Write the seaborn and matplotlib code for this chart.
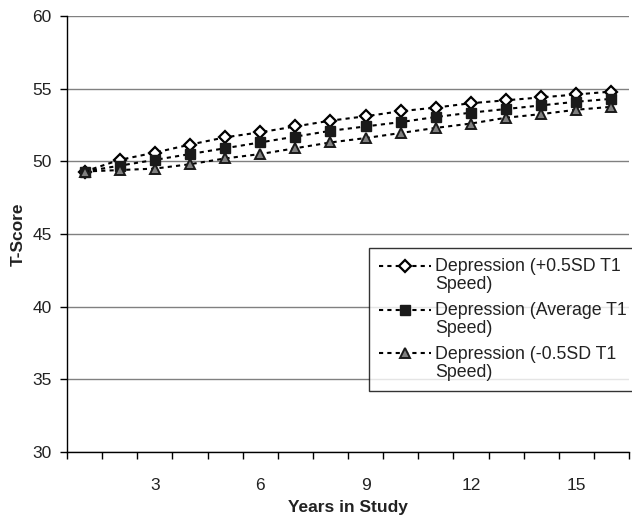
import matplotlib
matplotlib.use("Agg")
import matplotlib.pyplot as plt
import seaborn as sns
import pandas as pd
import numpy as np
from matplotlib.legend_handler import HandlerLine2D

years = list(range(1, 17))
plus_half_sd = [49.3, 50.1, 50.6, 51.15, 51.65, 52.0, 52.4, 52.8, 53.1, 53.45, 53.7, 54.0, 54.2, 54.4, 54.6, 54.8]
average = [49.3, 49.7, 50.1, 50.5, 50.9, 51.3, 51.7, 52.1, 52.4, 52.7, 53.05, 53.35, 53.6, 53.85, 54.1, 54.3]
minus_half_sd = [49.3, 49.4, 49.5, 49.8, 50.2, 50.5, 50.9, 51.3, 51.6, 51.95, 52.3, 52.6, 53.0, 53.25, 53.55, 53.75]
labels = ["Depression (+0.5SD T1\nSpeed)", "Depression (Average T1\nSpeed)", "Depression (-0.5SD T1\nSpeed)"]
x_tick_values = [3, 6, 9, 12, 15]
y_tick_values = [30, 35, 40, 45, 50, 55, 60]

sns.set_style("white")
plt.rcParams['font.family'] = ['Liberation Sans', 'DejaVu Sans']

fig = plt.figure(figsize=(6.32, 5.2), dpi=100)
ax = fig.add_axes([67/632, 1-452/520, (629-67)/632, (452-16)/520])

styles = [
    dict(marker='D', markersize=6.5, markerfacecolor='white', markeredgecolor='black', markeredgewidth=1.6),
    dict(marker='s', markersize=7, markerfacecolor='#1a1a1a', markeredgecolor='#1a1a1a', markeredgewidth=1.0),
    dict(marker='^', markersize=7.5, markerfacecolor='#808080', markeredgecolor='#1a1a1a', markeredgewidth=1.4),
]
series = [plus_half_sd, average, minus_half_sd]
for vals, lab, st in zip(series, labels, styles):
    df = pd.DataFrame({"Year": years, "T": vals})
    sns.lineplot(data=df, x="Year", y="T", ax=ax, color='black', linewidth=1.5,
                 linestyle=(0, (2, 2)), label=lab, **st)

ax.set_xlim(0.5, 16.5)
ax.set_ylim(30, 60)
ax.set_xticks(x_tick_values)
ax.set_xticklabels([str(v) for v in x_tick_values])
ax.set_xticks(np.arange(0.5, 17, 1), minor=True)
ax.tick_params(axis='x', which='major', length=0, pad=19, labelsize=12.5, labelcolor='#222222')
ax.tick_params(axis='x', which='minor', length=5, width=1, direction='out', color='black', bottom=True)
ax.set_yticks(y_tick_values)
ax.tick_params(axis='y', length=5, width=1, direction='out', pad=6, labelsize=12.5,
               color='black', labelcolor='#222222', left=True)

ax.yaxis.grid(True, color='#808080', linewidth=1)
ax.set_axisbelow(True)
for s in ['top', 'right']:
    ax.spines[s].set_visible(False)
for s in ['left', 'bottom']:
    ax.spines[s].set_color('black')
    ax.spines[s].set_linewidth(1)

ax.set_xlabel("Years in Study", fontsize=12.5, fontweight='bold', labelpad=5, color='#222222')
ax.set_ylabel("T-Score", fontsize=12.5, fontweight='bold', labelpad=5, color='#222222')


class UpHandler(HandlerLine2D):
    def create_artists(self, legend, orig_handle, xdescent, ydescent, width, height, fontsize, trans):
        shift = fontsize * 1.15
        return super().create_artists(legend, orig_handle, xdescent, ydescent - shift, width, height, fontsize, trans)


handles, labs = ax.get_legend_handles_labels()
if ax.get_legend():
    ax.get_legend().remove()
leg = fig.legend(handles, labs, loc='upper left', bbox_to_anchor=(369/632, 1-248/520),
                 bbox_transform=fig.transFigure, fontsize=12.8, frameon=True, fancybox=False,
                 edgecolor='black', handlelength=2.95, handletextpad=0.2, labelspacing=0.47,
                 borderpad=0.55, borderaxespad=0, handler_map={h: UpHandler() for h in handles})
leg.get_frame().set_linewidth(1)
for t in leg.get_texts():
    t.set_color('#222222')
    t.set_linespacing(1.12)

fig.savefig("out.png", dpi=100)
